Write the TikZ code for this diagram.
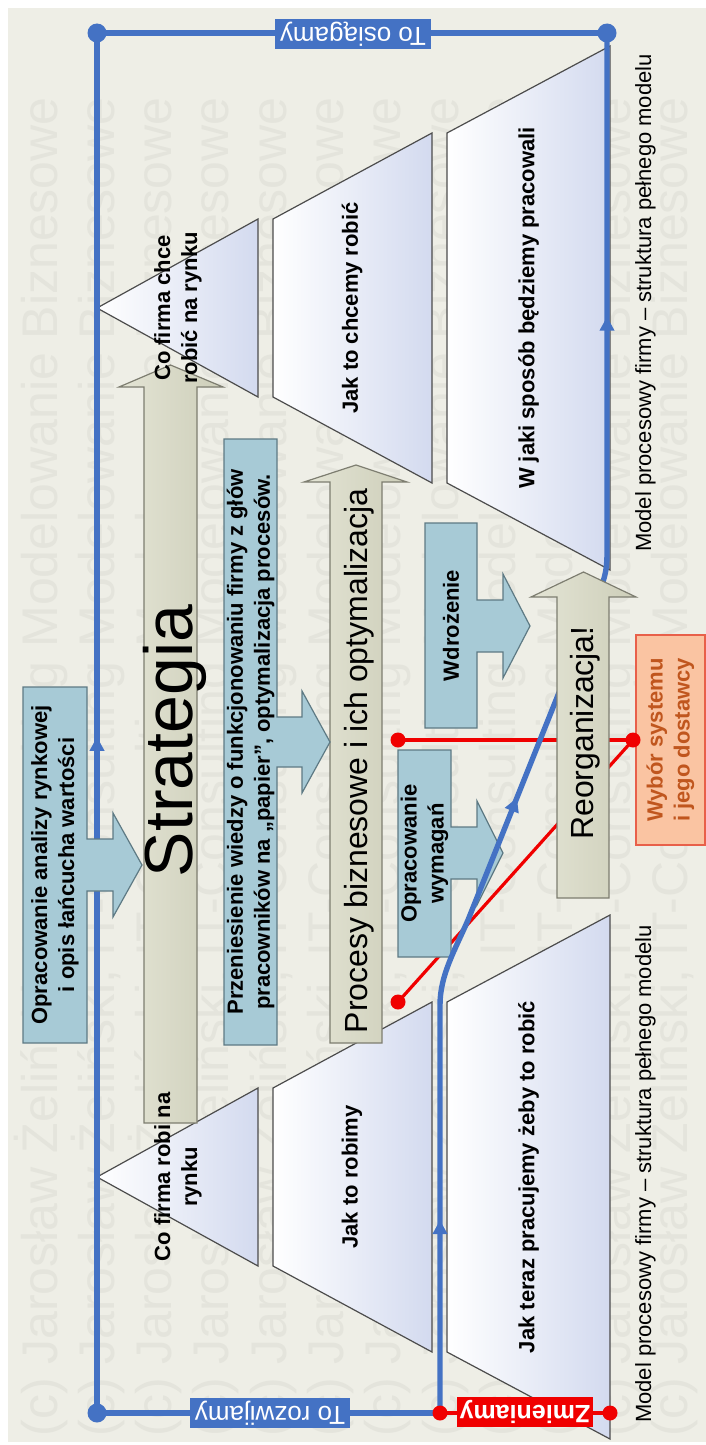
\documentclass[tikz,border=0pt]{standalone}
\usepackage{fontspec}
\setmainfont{Liberation Sans}
\usetikzlibrary{arrows.meta,decorations.markings}

\definecolor{bg}{HTML}{EEEEE6}
\definecolor{wmark}{HTML}{E4E4DC}
\definecolor{linkblue}{HTML}{4472C4}
\definecolor{linkred}{HTML}{F00000}
\definecolor{callfill}{HTML}{A7CAD6}
\definecolor{callline}{HTML}{5E7A84}
\definecolor{tanfill}{HTML}{D8D9C3}
\definecolor{tanline}{HTML}{7D7D70}
\definecolor{trapblue}{HTML}{D3DAEF}
\definecolor{peach}{HTML}{FAC4A2}
\definecolor{peachline}{HTML}{E8604A}
\definecolor{peachtext}{HTML}{C0561E}

\tikzset{
  wmtext/.style={font=\fontsize{25}{30}\selectfont, text=wmark, rotate=90, inner sep=0pt},
  stage/.style={draw=black!70, line width=0.6pt, left color=white, right color=trapblue},
  stagetext/.style={font=\fontsize{11}{13.5}\selectfont\bfseries, align=center, rotate=90, inner sep=0pt},
  blueline/.style={draw=linkblue, line width=2.7pt},
  redline/.style={draw=linkred, line width=1.6pt},
  bluedot/.style={circle, fill=linkblue, inner sep=0pt, minimum size=9.5pt},
  reddot/.style={circle, fill=linkred, inner sep=0pt, minimum size=7.5pt},
  flowtip/.style={decoration={markings, mark=at position #1 with {\arrow[color=linkblue]{Triangle[length=7pt,width=7pt]}}}, postaction={decorate}},
  bigarrow/.style={draw=tanline, line width=0.6pt, left color=tanfill!70!white, right color=tanfill!95!black},
  bigtext/.style={rotate=90, inner sep=0pt, anchor=base},
  callout/.style={draw=callline, line width=0.6pt, fill=callfill},
  calltext/.style={font=\fontsize{11}{13.5}\selectfont\bfseries, align=center, rotate=90, inner sep=0pt},
  linelabel/.style={rotate=180, text=white, inner xsep=2.5pt, inner ysep=0pt, minimum height=15pt, font=\fontsize{13}{15}\selectfont},
  modeltext/.style={font=\fontsize{11}{13}\selectfont, rotate=90, inner sep=0pt, anchor=base}
}

\begin{document}
\begin{tikzpicture}[x=0.5pt,y=-0.5pt]
\useasboundingbox (0,0) rectangle (706,1445);
\fill[white] (0,0) rectangle (706,1445);
\fill[bg] (8,8) rectangle (706,1442);

% watermark columns
\begin{scope}
  \clip (8,8) rectangle (706,1442);
  \foreach \k in {0,...,11}{
    \node[wmtext, anchor=base west] (wm\k) at ({57+57.3*\k},1437)
      {(c) Jarosław Żeliński, IT-Consulting Modelowanie Biznesowe};
  }
\end{scope}

% target model (top)
\path[stage] (97,308) -- (258,219) -- (258,397) -- cycle;
\path[stage] (273,219) -- (432,133) -- (432,483) -- (273,397) -- cycle;
\path[stage] (447,133) -- (610,46) -- (610,570) -- (447,483) -- cycle;
% current model (bottom)
\path[stage] (97,1177) -- (258,1088) -- (258,1266) -- cycle;
\path[stage] (273,1088) -- (432,1002) -- (432,1352) -- (273,1266) -- cycle;
\path[stage] (447,1002) -- (610,915) -- (610,1439) -- (447,1352) -- cycle;

% frame points
\coordinate (tl) at (97,33);
\coordinate (tr) at (607,33);
\coordinate (bl) at (97,1413);
\coordinate (bm) at (440,1413);
\coordinate (br) at (610,1413);
\coordinate (rtop) at (398,740);
\coordinate (rbot) at (398,1002);
\coordinate (rsel) at (633,740);
\coordinate (bendlow) at (440,1005);
\coordinate (bendup) at (607,555);

% frame lines behind the boxes
\draw[blueline, flowtip=0.49] (bl) -- (tl);
\draw[blueline] (tl) -- (tr);
\draw[blueline] (bl) -- (bm);
\draw[redline] (bm) -- (br);
\draw[redline] (rtop) -- (rsel);
\draw[redline] (rbot) -- (rsel);

% block arrows
\path[bigarrow] (144,1123) -- (144,387) -- (119,387) -- (170.5,365) -- (223,387) -- (197,387) -- (197,1123) -- cycle;
\node[bigtext, font=\fontsize{34}{40}\selectfont] (strategy) at (192,741) {Strategia};
\path[bigarrow] (330,1043) -- (330,482) -- (304,482) -- (356,465) -- (407,482) -- (382,482) -- (382,1043) -- cycle;
\node[bigtext, font=\fontsize{16}{19}\selectfont] (processes) at (367,761) {Procesy biznesowe i ich optymalizacja};

% callouts
\path[callout] (23,687) -- (87,687) -- (87,839) -- (113,839) -- (113,813) -- (142,865) -- (113,917) -- (113,891) -- (87,891) -- (87,1043) -- (23,1043) -- cycle;
\node[calltext] (market) at (55,865) {Opracowanie analizy rynkowej\\i opis łańcucha wartości};
\path[callout] (224,439) -- (277,439) -- (277,717) -- (302,717) -- (302,691) -- (330,742) -- (302,793) -- (302,767) -- (277,767) -- (277,1045) -- (224,1045) -- cycle;
\node[calltext] (transfer) at (250.5,742) {Przeniesienie wiedzy o funkcjonowaniu firmy z głów\\pracowników na „papier”, optymalizacja procesów.};
\path[callout] (398,750) -- (451,750) -- (451,827) -- (477,827) -- (477,801) -- (503,853) -- (477,905) -- (477,879) -- (451,879) -- (451,957) -- (398,957) -- cycle;
\node[calltext] (require) at (424.5,853.5) {Opracowanie\\wymagań};
\path[callout] (425,523) -- (477,523) -- (477,600) -- (503,600) -- (503,574) -- (530,626) -- (503,678) -- (503,652) -- (477,652) -- (477,728) -- (425,728) -- cycle;
\node[calltext] (deploy) at (451,625.5) {Wdrożenie};

% change path from current to target model
\draw[blueline, postaction={decorate}, decoration={markings,
    mark=at position 96.5pt with {\arrow[color=linkblue]{Triangle[length=7pt,width=7pt]}},
    mark=at position 315pt with {\arrow[color=linkblue]{Triangle[length=7pt,width=7pt]}},
    mark=at position 564pt with {\arrow[color=linkblue]{Triangle[length=7pt,width=7pt]}}}]
  (bm) -- (bendlow) .. controls (440,975) and (455,950) .. (468,920)
  -- (600,590) .. controls (604,580) and (607,570) .. (bendup) -- (tr);

% reorganisation arrow
\path[bigarrow] (557,898) -- (557,597) -- (531,597) -- (583.5,572) -- (636,597) -- (609,597) -- (609,898) -- cycle;
\node[bigtext, font=\fontsize{16}{19}\selectfont] (reorg) at (593,733) {Reorganizacja!};

% stage labels, on top of the block arrows
\node[stagetext] (goal) at (178,308) {Co firma chce\\robić na rynku};
\node[stagetext] (howwant) at (352,308) {Jak to chcemy robić};
\node[stagetext] (waywant) at (528.5,308) {W jaki sposób będziemy pracowali};
\node[stagetext] (now) at (178,1177) {Co firma robi na\\rynku};
\node[stagetext] (howdo) at (352,1177) {Jak to robimy};
\node[stagetext] (waynow) at (528.5,1177) {Jak teraz pracujemy żeby to robić};

% system selection
\node[draw=peachline, line width=0.8pt, fill=peach, rotate=90, minimum width=105pt, minimum height=34.5pt,
      align=center, text=peachtext, font=\fontsize{11}{13.5}\selectfont\bfseries, inner sep=0pt]
  (select) at (670.5,740) {Wybór systemu\\i jego dostawcy};

% line labels
\node[linelabel, fill=linkblue] (reach) at (353,34) {To osiągamy};
\node[linelabel, fill=linkblue] (develop) at (270,1413) {To rozwijamy};
\node[linelabel, fill=linkred, font=\fontsize{12.5}{15}\selectfont\bfseries, inner xsep=1.5pt] (change) at (525,1412) {Zmieniamy};

% end points
\node[bluedot] (dtl) at (tl) {};
\node[bluedot] (dtr) at (tr) {};
\node[bluedot] (dbl) at (bl) {};
\node[reddot] (dbm) at (bm) {};
\node[reddot] (dbr) at (br) {};
\node[reddot] (drtop) at (rtop) {};
\node[reddot] (drbot) at (rbot) {};
\node[reddot] (drsel) at (rsel) {};

% captions
\node[modeltext] (captop) at (651,303) {Model procesowy firmy – struktura pełnego modelu};
\node[modeltext] (capbot) at (651,1174) {Model procesowy firmy – struktura pełnego modelu};
\end{tikzpicture}
\end{document}
